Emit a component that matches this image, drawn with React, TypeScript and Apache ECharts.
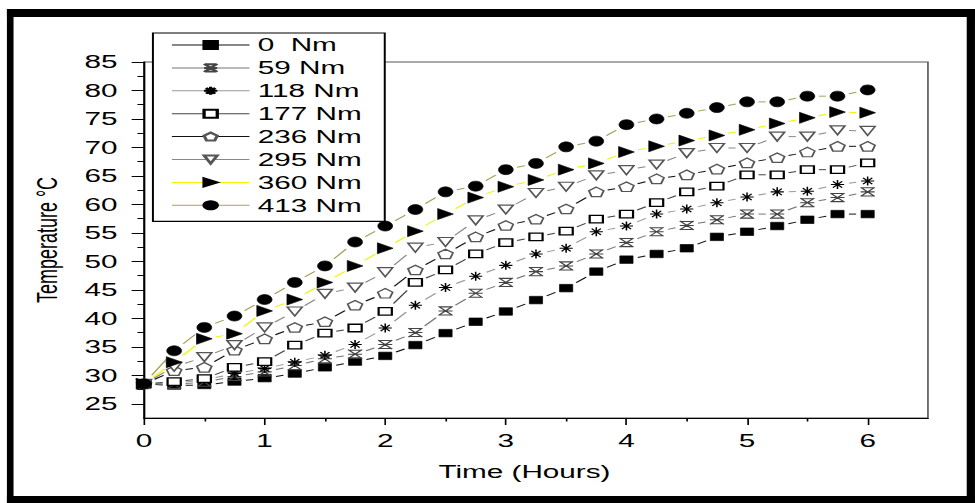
import React, { useEffect, useRef } from "react";
import * as echarts from "echarts";

// Time (hours)
const times = [0, 0.25, 0.5, 0.75, 1, 1.25, 1.5, 1.75, 2, 2.25, 2.5, 2.75, 3, 3.25, 3.5, 3.75, 4, 4.25, 4.5, 4.75, 5, 5.25, 5.5, 5.75, 6];

const seriesNames = ["0  Nm", "59 Nm", "118 Nm", "177 Nm", "236 Nm", "295 Nm", "360 Nm", "413 Nm"];

const t0 = [28.5, 28.2, 28.3, 28.9, 29.5, 30.3, 31.4, 32.4, 33.4, 35.3, 37.4, 39.4, 41.2, 43.2, 45.3, 48.2, 50.3, 51.3, 52.3, 54.3, 55.2, 56.2, 57.3, 58.3, 58.3];
const t59 = [28.5, 28.4, 28.8, 29.8, 30.6, 31.7, 32.9, 33.7, 35.4, 37.5, 41.3, 44.4, 46.3, 48.2, 49.2, 51.3, 53.3, 55.2, 56.3, 57.3, 58.3, 58.3, 60.3, 61.2, 62.2];
const t118 = [28.5, 28.6, 29.2, 30.3, 31.2, 32.3, 33.5, 35.4, 38.3, 42.3, 45.4, 47.4, 49.3, 51.3, 52.3, 55.2, 56.2, 58.3, 59.2, 60.3, 61.3, 62.2, 62.3, 63.5, 64.1];
const t177 = [28.5, 28.9, 29.4, 31.4, 32.4, 35.3, 37.4, 38.3, 41.2, 46.3, 48.5, 51.3, 53.3, 54.3, 55.3, 57.4, 58.3, 60.3, 62.2, 63.2, 65.2, 65.2, 66.1, 66.1, 67.3];
const t236 = [28.5, 30.8, 31.4, 34.4, 36.4, 38.4, 39.4, 42.3, 44.4, 48.5, 51.3, 54.3, 56.3, 57.4, 59.2, 62.2, 63.1, 64.5, 65.2, 66.2, 67.3, 68.2, 69.2, 70.2, 70.2];
const t295 = [28.5, 31.5, 33.2, 35.3, 38.4, 41.2, 44.3, 45.4, 48.1, 52.4, 53.4, 57.2, 59.1, 62.0, 63.1, 65.1, 66.0, 67.0, 69.0, 69.9, 69.9, 71.9, 71.9, 73.0, 72.9];
const t360 = [28.5, 32.3, 36.4, 37.3, 41.3, 43.3, 46.3, 49.2, 52.3, 55.3, 58.3, 61.2, 63.1, 64.3, 66.1, 67.2, 69.2, 70.2, 71.2, 72.1, 73.1, 74.2, 75.2, 76.2, 76.1];
const t413 = [28.5, 34.3, 38.4, 40.4, 43.3, 46.3, 49.2, 53.4, 56.2, 59.1, 62.2, 63.2, 66.1, 67.2, 70.1, 71.1, 74.0, 75.0, 76.0, 77.0, 78.0, 78.0, 79.0, 79.0, 80.1];

const xMajorTicks = [0, 1, 2, 3, 4, 5, 6];
const xMinorTicks = [0.5, 1.5, 2.5, 3.5, 4.5, 5.5];
const yMajorTicks = [25, 30, 35, 40, 45, 50, 55, 60, 65, 70, 75, 80, 85];
const yMinorTicks = [27.5, 32.5, 37.5, 42.5, 47.5, 52.5, 57.5, 62.5, 67.5, 72.5, 77.5, 82.5];

const STRETCH = 1.6497;
const W = 591;
const H = 503;
const FONT = "Liberation Sans";
const GAP = 11.5; // distance (screen px) from a symbol's centre to where its line starts

const pentagon = "path://M5,0 L10,3.8 L8.1,10 L1.9,10 L0,3.8 Z";
const asterisk = "path://M0,5 L10,5 M5,0 L5,10 M1.5,1.5 L8.5,8.5 M1.5,8.5 L8.5,1.5";
const xstar = "path://M0,0 L10,10 M0,10 L10,0 M1,0.5 L9,0.5 M1,9.5 L9,9.5 M0,5 L10,5";

export default function App() {
  const ref = useRef<HTMLDivElement>(null);
  useEffect(() => {
    document.body.style.margin = "0";
    const chart = echarts.init(ref.current!, null, { renderer: "svg" });
    const values = [t0, t59, t118, t177, t236, t295, t360, t413];
    const styles = [
      { symbol: "rect", size: [8, 7.5], rot: 0, fill: "#000", stroke: "#000", bw: 0.5, line: "#111" },
      { symbol: xstar, size: [8.5, 9], rot: 0, fill: "#444", stroke: "#444", bw: 1, line: "#777" },
      { symbol: asterisk, size: [8, 9], rot: 0, fill: "#000", stroke: "#000", bw: 1, line: "#999" },
      { symbol: "rect", size: [8, 7.5], rot: 0, fill: "#fff", stroke: "#000", bw: 1.3, line: "#444" },
      { symbol: pentagon, size: [9, 9.5], rot: 0, fill: "#fff", stroke: "#555", bw: 1.2, line: "#111" },
      { symbol: "triangle", size: [9, 9], rot: 180, fill: "#fff", stroke: "#555", bw: 1.2, line: "#888" },
      { symbol: "triangle", size: [11, 9.5], rot: -90, fill: "#000", stroke: "#000", bw: 0.5, line: "#f2f200" },
      { symbol: "circle", size: [9, 10], rot: 0, fill: "#000", stroke: "#000", bw: 0.5, line: "#a8a058" },
    ];

    // connecting segments, each shortened at both ends (gap at the symbols)
    const segSeries = values.map((vals, i) => ({
      name: "seg" + i,
      type: "custom",
      xAxisIndex: 0,
      yAxisIndex: 0,
      silent: true,
      z: 2,
      encode: { x: [0, 2], y: [1, 3] },
      data: times.slice(0, -1).map((t, j) => [t, vals[j], times[j + 1], vals[j + 1]]),
      renderItem: (params: any, api: any) => {
        const p0 = api.coord([api.value(0), api.value(1)]);
        const p1 = api.coord([api.value(2), api.value(3)]);
        const ddx = p1[0] - p0[0];
        const dx = ddx * STRETCH;
        const dy = p1[1] - p0[1];
        const len = Math.sqrt(dx * dx + dy * dy);
        if (len <= GAP * 2 + 2) return null;
        const f = GAP / len;
        return {
          type: "line",
          shape: {
            x1: p0[0] + ddx * f,
            y1: p0[1] + dy * f,
            x2: p1[0] - ddx * f,
            y2: p1[1] - dy * f,
          },
          style: { stroke: styles[i].line, lineWidth: 1 },
        };
      },
    }));

    const symSeries = values.map((vals, i) => ({
      name: seriesNames[i],
      type: "line",
      xAxisIndex: 0,
      yAxisIndex: 0,
      z: 3,
      data: times.map((t, j) => [t, vals[j]]),
      symbol: styles[i].symbol,
      symbolSize: styles[i].size,
      symbolRotate: styles[i].rot,
      showAllSymbol: true,
      lineStyle: { color: styles[i].line, width: 1, opacity: 0 },
      itemStyle: { color: styles[i].fill, borderColor: styles[i].stroke, borderWidth: styles[i].bw },
      emphasis: { disabled: true },
    }));

    chart.setOption({
      animation: false,
      textStyle: { fontFamily: FONT },
      grid: {
        left: 87.3,
        right: 28.5,
        top: 62,
        bottom: 85,
        show: true,
        borderColor: "#555",
        borderWidth: 1,
      },
      legend: {
        orient: "vertical",
        left: 92.7,
        top: 33,
        itemWidth: 47,
        itemHeight: 10,
        itemGap: 4.9,
        padding: [3, 14, 7, 11],
        backgroundColor: "#fff",
        borderColor: "#000",
        borderWidth: 1.2,
        selectedMode: false,
        lineStyle: { width: 1, opacity: 1 },
        textStyle: { fontFamily: FONT, fontSize: 18, color: "#000" },
        data: seriesNames,
      },
      xAxis: [
        {
          type: "value",
          min: 0,
          max: 6.5,
          axisLine: { lineStyle: { color: "#000", width: 1.2 } },
          axisTick: { customValues: xMajorTicks, length: 7, lineStyle: { color: "#000" } },
          axisLabel: { customValues: xMajorTicks, margin: 14, fontSize: 18, color: "#000", fontFamily: FONT },
          splitLine: { show: false },
          name: "Time (Hours)",
          nameLocation: "middle",
          nameGap: 45,
          nameTextStyle: { fontSize: 18, color: "#000", fontFamily: FONT, padding: [0, 14, 0, 0] },
        },
        {
          type: "value",
          min: 0,
          max: 6.5,
          position: "bottom",
          axisLine: { show: false },
          axisTick: { customValues: xMinorTicks, length: 3.5, lineStyle: { color: "#000" } },
          axisLabel: { show: false },
          splitLine: { show: false },
        },
      ],
      yAxis: [
        {
          type: "value",
          min: 22.5,
          max: 85,
          axisLine: { show: true, lineStyle: { color: "#000", width: 1.2 } },
          axisTick: { show: true, customValues: yMajorTicks, length: 7.5, lineStyle: { color: "#000" } },
          axisLabel: { customValues: yMajorTicks, margin: 16, fontSize: 18, color: "#000", fontFamily: FONT },
          splitLine: { show: false },
          name: "Temperature °C",
          nameLocation: "middle",
          nameGap: 50,
          nameTextStyle: { fontSize: 18, color: "#000", fontFamily: FONT },
        },
        {
          type: "value",
          min: 22.5,
          max: 85,
          position: "left",
          axisLine: { show: false },
          axisTick: { show: true, customValues: yMinorTicks, length: 4, lineStyle: { color: "#000" } },
          axisLabel: { show: false },
          splitLine: { show: false },
        },
      ],
      graphic: [
        { type: "rect", shape: { x: 4.2, y: 9, width: W - 4.2, height: 8 }, style: { fill: "#000" }, silent: true },
        { type: "rect", shape: { x: 4.2, y: 9, width: 4, height: H - 9 }, style: { fill: "#000" }, silent: true },
        { type: "rect", shape: { x: 586, y: 9, width: 5, height: H - 9 }, style: { fill: "#000" }, silent: true },
        { type: "rect", shape: { x: 4.2, y: 496, width: W - 4.2, height: 7 }, style: { fill: "#000" }, silent: true },
      ],
      series: [...segSeries, ...symSeries],
    });
    return () => chart.dispose();
  }, []);
  return (
    <div
      ref={ref}
      style={{
        position: "absolute",
        left: 0,
        top: 0,
        width: W,
        height: H,
        transform: `scaleX(${STRETCH})`,
        transformOrigin: "0 0",
        background: "#fff",
      }}
    />
  );
}
